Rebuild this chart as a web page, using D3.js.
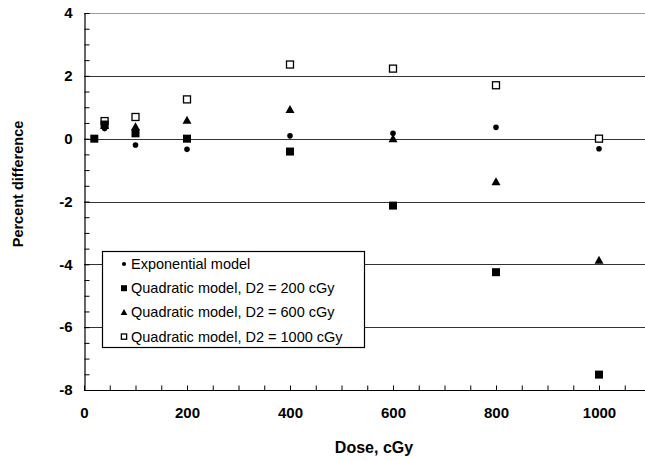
<!DOCTYPE html>
<html>
<head>
<meta charset="utf-8">
<script src="https://cdn.jsdelivr.net/npm/d3@7"></script>
<style>
  body { margin: 0; background: white; }
  svg text { font-family: "Liberation Sans", Arial, sans-serif; }
</style>
</head>
<body>
<svg></svg>
<script>

// data
var doses = [20, 40, 100, 200, 400, 600, 800, 1000];
var expModel = [0, 0.32, -0.2, -0.34, 0.09, 0.17, 0.36, -0.32];
var quad200 = [0, 0.45, 0.17, 0, -0.41, -2.13, -4.25, -7.51];
var quad600 = [null, 0.42, 0.38, 0.59, 0.93, 0, -1.37, -3.87];
var quad1000 = [null, 0.56, 0.69, 1.25, 2.36, 2.23, 1.70, 0];

var seriesNames = ["Exponential model", "Quadratic model, D2 = 200 cGy",
                   "Quadratic model, D2 = 600 cGy", "Quadratic model, D2 = 1000 cGy"];
var seriesShapes = ["circle", "square", "triangle", "open"];
var seriesValues = [expModel, quad200, quad600, quad1000];

var xTicks = d3.range(0, 1101, 50);
var yTicks = d3.range(-8, 4.01, 0.5);
var gridValues = [4, 2, 0, -2, -4, -6];

var width = 645, height = 460;

var svg = d3.select('svg')
    .attr('width', width)
    .attr('height', height);

svg.append('rect')
    .attr('width', '100%')
    .attr('height', '100%')
    .attr('fill', 'white');

var xScale = d3.scaleLinear()
    .domain([0, 1100])
    .range([84, 650.5]);

var yScale = d3.scaleLinear()
    .domain([-8, 4])
    .range([390, 13]);

// gridlines
svg.append('g').selectAll('line')
    .data(gridValues)
    .enter().append('line')
    .attr('x1', xScale(0))
    .attr('x2', width)
    .attr('y1', d => Math.round(yScale(d)) + 0.5)
    .attr('y2', d => Math.round(yScale(d)) + 0.5)
    .style('stroke', d => d === 4 ? '#9a9a9a' : '#333')
    .style('stroke-width', 1.2);

var x_axis = d3.axisBottom(xScale)
    .tickValues(xTicks)
    .tickSize(-5)
    .tickPadding(17)
    .tickFormat(d => d % 200 === 0 ? d : '');

var y_axis = d3.axisLeft(yScale)
    .tickValues(yTicks)
    .tickSize(-5)
    .tickPadding(12)
    .tickFormat(d => (d % 2 === 0) ? d : '');

var gx = svg.append('g')
    .attr('transform', 'translate(0,' + (Math.round(yScale(-8)) + 0.5) + ')')
    .call(x_axis);

var gy = svg.append('g')
    .attr('transform', 'translate(' + (xScale(0) + 0.5) + ',0)')
    .call(y_axis);

[gx, gy].forEach(function(g) {
    g.select('.domain').attr('stroke', '#000').attr('stroke-width', 1.2);
    g.selectAll('.tick line').attr('stroke', '#000');
    g.selectAll('.tick text')
        .style('font-size', '15px')
        .style('font-weight', 'bold')
        .attr('fill', '#000');
});
gx.select('.domain').attr('d', 'M' + xScale(0) + ',0H' + width);

// axis titles
svg.append('text')
    .attr('x', 374)
    .attr('y', 453)
    .attr('text-anchor', 'middle')
    .style('font-size', '16px')
    .style('font-weight', 'bold')
    .text('Dose, cGy');

svg.append('text')
    .attr('transform', 'translate(23,184) rotate(-90)')
    .attr('text-anchor', 'middle')
    .style('font-size', '14.5px')
    .style('font-weight', 'bold')
    .text('Percent difference');

function drawMarker(g, shape, x, y, scale) {
    var s = scale || 1;
    if (shape === 'circle') {
        g.append('circle').attr('cx', x).attr('cy', y).attr('r', 2.8 * s).attr('fill', '#000');
    } else if (shape === 'square') {
        g.append('rect').attr('x', x - 4 * s).attr('y', y - 4 * s)
            .attr('width', 8 * s).attr('height', 8 * s).attr('fill', '#000');
    } else if (shape === 'triangle') {
        var h = 4.5 * s;
        g.append('path')
            .attr('d', 'M' + x + ',' + (y - h) + 'L' + (x + h) + ',' + (y + h * 0.8) + 'L' + (x - h) + ',' + (y + h * 0.8) + 'Z')
            .attr('fill', '#000');
    } else {
        g.append('rect').attr('x', x - 3.5 * s).attr('y', y - 3.5 * s)
            .attr('width', 7 * s).attr('height', 7 * s)
            .attr('fill', 'white').attr('stroke', '#000').attr('stroke-width', 1.3);
    }
}

// points, drawn back to front
var order = [3, 2, 1, 0];
var pts = svg.append('g');
order.forEach(function(k) {
    seriesValues[k].forEach(function(v, i) {
        if (v === null) return;
        drawMarker(pts, seriesShapes[k], xScale(doses[i]), yScale(v));
    });
});

// legend
var legend = svg.append('g');
legend.append('rect')
    .attr('x', 102.5).attr('y', 251.5)
    .attr('width', 262).attr('height', 96)
    .attr('fill', 'white')
    .attr('stroke', '#000')
    .attr('stroke-width', 1.2);

seriesNames.forEach(function(name, i) {
    var yy = 264 + i * 24.2;
    drawMarker(legend, seriesShapes[i], 124, yy, 0.75);
    legend.append('text')
        .attr('x', 131)
        .attr('y', yy + 5)
        .style('font-size', '14.5px')
        .text(name);
});

</script>
</body>
</html>
